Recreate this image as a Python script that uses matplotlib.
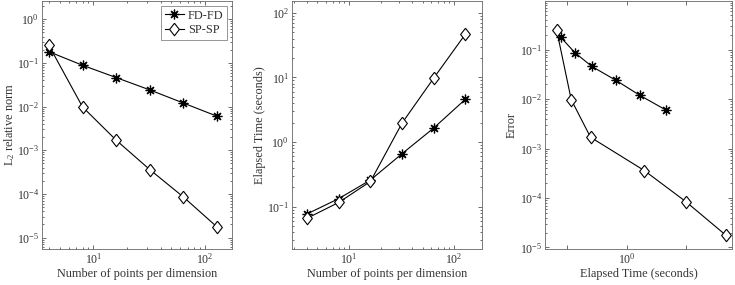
import matplotlib
matplotlib.use("Agg")
import matplotlib.pyplot as plt
from matplotlib.ticker import LogLocator, NullFormatter, FixedLocator, FixedFormatter

plt.rcParams['font.family'] = ['Liberation Serif', 'DejaVu Serif']
plt.rcParams['mathtext.fontset'] = 'custom'
plt.rcParams['mathtext.rm'] = 'Liberation Serif'
plt.rcParams['mathtext.it'] = 'Liberation Serif:italic'
plt.rcParams['mathtext.default'] = 'regular'

# data
points = [4, 8, 16, 32, 64, 128]
err_fd = [0.18, 0.088, 0.046, 0.024, 0.012, 0.0060]
err_sp = [0.25, 0.0098, 0.0017, 0.00036, 0.000085, 0.0000175]
time_fd = [0.077, 0.133, 0.258, 0.66, 1.65, 4.6]
time_sp = [0.066, 0.116, 0.245, 1.97, 9.8, 47.0]
labels = ['FD-FD', 'SP-SP']

TXT = '#333333'
FS = 8.8
TFS = 8.5
W, H = 735, 285
fig = plt.figure(figsize=(W / 100, H / 100), dpi=100)

def mk_ax(l, r, t, b):
    return fig.add_axes([l / W, 1 - b / H, (r - l) / W, (b - t) / H])

ax1 = mk_ax(42, 232, 1, 249)
ax2 = mk_ax(292, 482, 1, 249)
ax3 = mk_ax(545, 732, 1, 249)

diamond = [(0, 1), (0.78, 0), (0, -1), (-0.78, 0), (0, 1)]
star = dict(marker=(8, 2, 0), markersize=7, markeredgewidth=0.9, color='k', linewidth=0.8)
diam = dict(marker=diamond, markersize=9, markerfacecolor='white', markeredgecolor='k',
            markeredgewidth=0.8, color='k', linewidth=0.8)

ax1.plot(points, err_fd, label=labels[0], **star)
ax1.plot(points, err_sp, label=labels[1], **diam)
ax2.plot(points, time_fd, **star)
ax2.plot(points, time_sp, **diam)
ax3.plot(time_fd, err_fd, **star)
ax3.plot(time_sp, err_sp, **diam)

for ax in (ax1, ax2, ax3):
    ax.set_xscale('log')
    ax.set_yscale('log')
    ax.tick_params(which='both', direction='in', top=True, right=True, colors=TXT,
                   labelsize=TFS, width=0.5, pad=2)
    ax.tick_params(which='major', length=3)
    ax.tick_params(which='minor', length=1.6)
    for s in ax.spines.values():
        s.set_color('#666666')
        s.set_linewidth(0.6)
    ax.yaxis.set_major_locator(LogLocator(base=10, numticks=20))
    ax.yaxis.set_minor_locator(LogLocator(base=10, subs=range(2, 10), numticks=20))
    ax.yaxis.set_minor_formatter(NullFormatter())
    ax.xaxis.set_minor_formatter(NullFormatter())

ax1.set_xlim(3.47, 174)
ax1.set_ylim(5.5e-6, 2.6)
ax2.set_xlim(2.87, 184)
ax2.set_ylim(0.022, 153)
ax3.set_xlim(0.042, 59)
ax3.set_ylim(9.3e-6, 0.97)

ax3.xaxis.set_major_locator(FixedLocator([0.1, 1, 10]))
ax3.xaxis.set_major_formatter(FixedFormatter(['', r'$10^0$', '']))
ax3.xaxis.set_minor_locator(FixedLocator([]))

ax1.set_xlabel('Number of points per dimension', fontsize=FS, color=TXT, labelpad=1)
ax2.set_xlabel('Number of points per dimension', fontsize=FS, color=TXT, labelpad=1)
ax3.set_xlabel('Elapsed Time (seconds)', fontsize=FS, color=TXT, labelpad=1)
ax1.set_ylabel(r'L$_2$ relative norm', fontsize=FS, color=TXT, va='center')
ax2.set_ylabel('Elapsed Time (seconds)', fontsize=FS, color=TXT, va='center')
ax3.set_ylabel('Error', fontsize=FS, color=TXT, va='center')
ax1.yaxis.set_label_coords(-32 / 190, 0.5)
ax2.yaxis.set_label_coords(-32 / 190, 0.5)
ax3.yaxis.set_label_coords(-33 / 187, 0.5)

leg = ax1.legend(loc='upper right', fontsize=FS, frameon=True, fancybox=False,
                 edgecolor='#666666', borderpad=0.3, handlelength=1.6,
                 handletextpad=0.3, labelspacing=0.2, borderaxespad=0.4)
leg.get_frame().set_linewidth(0.6)
for t in leg.get_texts():
    t.set_color(TXT)

fig.savefig('out.png', dpi=100)
